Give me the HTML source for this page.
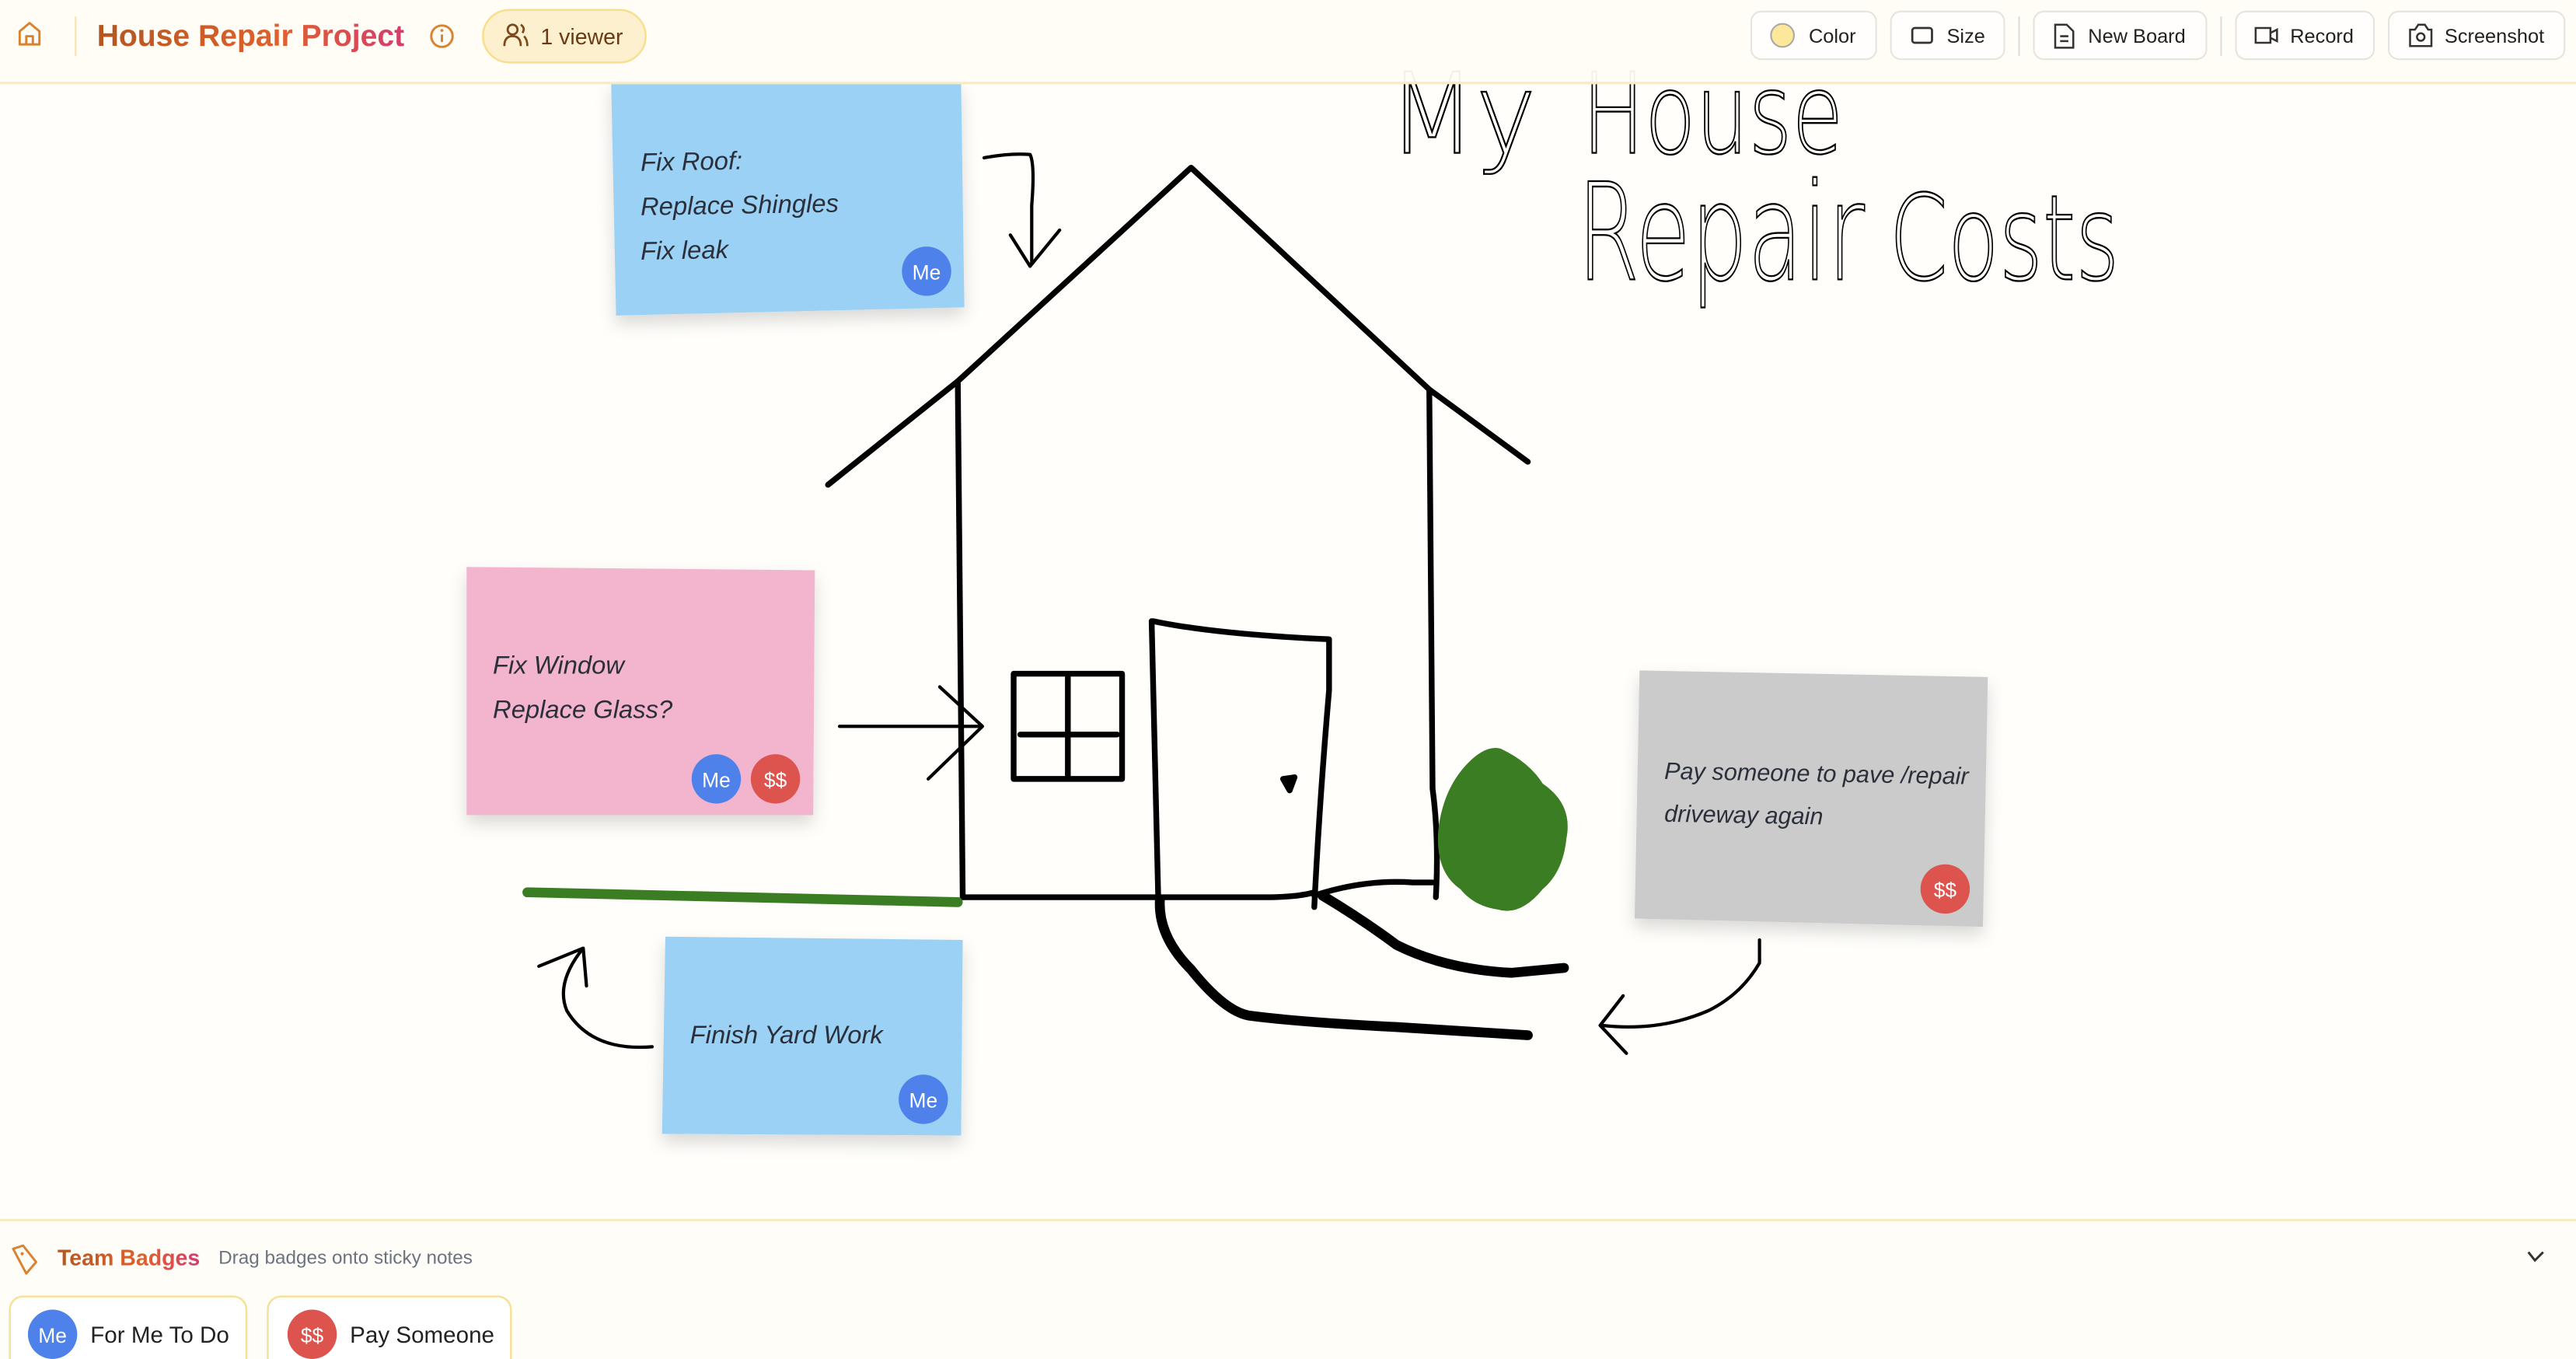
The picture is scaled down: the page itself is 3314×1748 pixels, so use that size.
<!DOCTYPE html>
<html><head><meta charset="utf-8">
<style>
html,body{margin:0;padding:0;width:3314px;height:1748px;overflow:hidden;background:#fffefb;}
svg{display:block}
.ui{font-family:"Liberation Sans",sans-serif;}
.hand{font-family:"Liberation Sans",sans-serif;font-style:italic;fill:#2a2f3a;}
</style></head><body>
<svg width="3314" height="1748" viewBox="0 0 1568 827" xmlns="http://www.w3.org/2000/svg">
<defs>
<linearGradient id="tg" x1="0" x2="1" y1="0" y2="0"><stop offset="0" stop-color="#b5561f"/><stop offset="0.6" stop-color="#e0602e"/><stop offset="1" stop-color="#d43c6e"/></linearGradient>
<filter id="sh" x="-20%" y="-20%" width="140%" height="150%"><feDropShadow dx="0" dy="5" stdDeviation="5" flood-color="#000" flood-opacity="0.15"/></filter>
</defs>
<rect width="1568" height="827" fill="#fffefb"/>

<!-- Title drawing -->
<g fill="none" stroke="#000" stroke-width="1.1" font-family="'DejaVu Sans','Liberation Sans',sans-serif" font-weight="200">
<text x="845" y="93" font-size="68" textLength="90" lengthAdjust="spacingAndGlyphs">My</text>
<text x="963" y="93" font-size="68" textLength="159" lengthAdjust="spacingAndGlyphs">House</text>
<text x="960" y="170" font-size="82" textLength="175" lengthAdjust="spacingAndGlyphs">Repair</text>
<text x="1150" y="170" font-size="72" textLength="140" lengthAdjust="spacingAndGlyphs">Costs</text>
</g>

<!-- House -->
<g fill="none" stroke="#000" stroke-width="3.5" stroke-linecap="round" stroke-linejoin="round">
<path d="M504,295 L583,232 L725,102 L870,237 L930,281"/>
<path d="M583,232 L586,546"/>
<path d="M870,237 L872,480 Q876,510 874,546"/>
<path d="M586,546 L770,546 Q790,546 800,543"/>
<rect x="617" y="410" width="66" height="64"/>
<path d="M650,412 L650,472 M621,447 L680,447"/>
<path d="M701,378 L705,546 M702,378 Q740,386 809,389 L809,420 Q803,490 800,552"/>
<path d="M800,545 Q830,535 860,537 L872,537"/>
<path d="M781,474 L788,473 L785,481 Z" fill="#000"/>
</g>
<g fill="none" stroke="#000" stroke-width="6" stroke-linecap="round">
<path d="M706,548 Q705,570 725,590 Q745,615 760,618 Q790,622 850,625 L930,630"/>
<path d="M805,545 Q830,560 850,575 Q880,590 920,592 L952,589"/>
</g>
<path d="M321,543 L583,549" stroke="#3a7d22" stroke-width="6" stroke-linecap="round"/>
<path d="M913,457 Q930,465 938,478 Q956,490 952,510 Q950,530 938,540 Q925,556 912,552 Q898,550 890,540 Q875,530 877,505 Q880,480 895,465 Q905,455 913,457 Z" fill="#3a7d22" stroke="#3a7d22" stroke-width="3"/>

<!-- Arrows -->
<g fill="none" stroke="#000" stroke-width="2" stroke-linecap="round" stroke-linejoin="round">
<path d="M599,96 Q615,93 627,94 Q630,100 628,125 L628,160 M615,143 L627,162 L645,140"/>
<path d="M511,442 L598,442 M572,418 L598,442 L565,474"/>
<path d="M397,637 Q360,640 345,615 Q338,598 355,577 L357,600 M355,577 L328,588"/>
<path d="M1071,572 L1071,586 Q1060,605 1040,615 Q1010,628 975,624 M988,606 L974,624 L990,641"/>
</g>

<!-- Sticky notes -->
<g filter="url(#sh)">
<polygon points="372,50 585,50 587,187 375,192" fill="#9ad1f4"/>
<polygon points="284,345 496,347 495,496 284,496" fill="#f3b5cd"/>
<polygon points="405,570 586,572 585,691 403,690" fill="#9ad1f4"/>
<polygon points="998,408 1210,412 1207,564 995,559" fill="#cbcbcb"/>
</g>
<g class="hand" font-size="15.5">
<text x="390" y="104" transform="rotate(-1 390 104)">Fix Roof:</text>
<text x="390" y="131" transform="rotate(-1 390 131)">Replace Shingles</text>
<text x="390" y="158" transform="rotate(-1 390 158)">Fix leak</text>
<text x="300" y="410">Fix Window</text>
<text x="300" y="437">Replace Glass?</text>
<text x="420" y="635">Finish Yard Work</text>
<text x="1013" y="474" font-size="14.5" transform="rotate(1 1013 474)">Pay someone to pave /repair</text>
<text x="1013" y="500" font-size="14.5" transform="rotate(1 1013 500)">driveway again</text>
</g>
<g class="ui" font-size="12.5" text-anchor="middle" fill="#fff">
<circle cx="564" cy="165" r="15" fill="#4e82ea"/><text x="564" y="170" fill="#fff">Me</text>
<circle cx="436" cy="474" r="15" fill="#4e82ea"/><text x="436" y="479" fill="#fff">Me</text>
<circle cx="472" cy="474" r="15" fill="#dd534d"/><text x="472" y="479" fill="#fff">$$</text>
<circle cx="562" cy="669" r="15" fill="#4e82ea"/><text x="562" y="674" fill="#fff">Me</text>
<circle cx="1184" cy="541" r="15" fill="#dd534d"/><text x="1184" y="546" fill="#fff">$$</text>
</g>

<!-- Header -->
<rect x="0" y="0" width="1568" height="50" fill="#fffdf6" opacity="0.95"/>
<line x1="0" y1="50.5" x2="1568" y2="50.5" stroke="#f8ebc0" stroke-width="1.5"/>
<g fill="none" stroke="#d9822f" stroke-width="1.4" stroke-linejoin="round">
<path d="M12,27 L12,19 L18,14 L24,19 L24,27 Z M16,27 L16,22 L20,22 L20,27"/>
<circle cx="269" cy="22" r="6.5"/><path d="M269,21 L269,25.5"/>
</g>
<circle cx="269" cy="18.5" r="0.9" fill="#d9822f"/>
<line x1="46" y1="10" x2="46" y2="34" stroke="#f7e4b0" stroke-width="1"/>
<text x="59" y="28" class="ui" font-size="18.5" font-weight="bold" fill="url(#tg)">House Repair Project</text>
<rect x="294" y="6" width="99" height="32" rx="16" fill="#fdf0cf" stroke="#f8df90" stroke-width="1.2"/>
<g fill="none" stroke="#7a4a1a" stroke-width="1.3"><circle cx="312" cy="18" r="3"/><path d="M307,28 Q307,22 312,22 Q317,22 317,28 M317,15 Q320,17 318,20 M319,22 Q321,24 321,28"/></g>
<text x="329" y="27" class="ui" font-size="13.5" fill="#6b3a14">1 viewer</text>

<g class="ui" font-size="12" fill="#222">
<rect x="1066" y="7" width="76" height="29" rx="6" fill="#fffefc" stroke="#e6e4df"/>
<circle cx="1085" cy="21.5" r="7" fill="#fde79a" stroke="#a9a9a9"/><text x="1101" y="26">Color</text>
<rect x="1151" y="7" width="69" height="29" rx="6" fill="#fffefc" stroke="#e6e4df"/>
<rect x="1164" y="17" width="12" height="9" rx="1.5" fill="none" stroke="#333" stroke-width="1.3"/><text x="1185" y="26">Size</text>
<line x1="1229" y1="10" x2="1229" y2="34" stroke="#ddd"/>
<rect x="1238" y="7" width="105" height="29" rx="6" fill="#fffefc" stroke="#e6e4df"/>
<path d="M1251,15 L1258,15 L1262,19 L1262,29 L1251,29 Z M1254,22 L1259,22 M1254,25 L1259,25" fill="none" stroke="#333" stroke-width="1.2"/><text x="1271" y="26">New Board</text>
<line x1="1352" y1="10" x2="1352" y2="34" stroke="#ddd"/>
<rect x="1361" y="7" width="84" height="29" rx="6" fill="#fffefc" stroke="#e6e4df"/>
<path d="M1373,17 L1382,17 L1382,26 L1373,26 Z M1382,20 L1386,18 L1386,25 L1382,23" fill="none" stroke="#333" stroke-width="1.2"/><text x="1394" y="26">Record</text>
<rect x="1454" y="7" width="107" height="29" rx="6" fill="#fffefc" stroke="#e6e4df"/>
<path d="M1467,18 L1470,18 L1472,15 L1476,15 L1478,18 L1480,18 L1480,28 L1467,28 Z" fill="none" stroke="#333" stroke-width="1.2"/><circle cx="1473.5" cy="22.5" r="2.3" fill="none" stroke="#333" stroke-width="1.2"/><text x="1488" y="26">Screenshot</text>
</g>

<!-- Bottom panel -->
<rect x="0" y="742" width="1568" height="85" fill="#fffdf7"/>
<line x1="0" y1="742.5" x2="1568" y2="742.5" stroke="#f8ebc0" stroke-width="1.5"/>
<path d="M8,760 L14,758 L22,768 L16,775 Z" fill="none" stroke="#d9822f" stroke-width="1.4" stroke-linejoin="round"/>
<circle cx="13.5" cy="763" r="1" fill="#d9822f"/>
<text x="35" y="770" class="ui" font-size="13.5" font-weight="bold" fill="url(#tg)">Team Badges</text>
<text x="133" y="769" class="ui" font-size="11.5" fill="#6b7280">Drag badges onto sticky notes</text>
<path d="M1539,762 L1543,767 L1548,762" fill="none" stroke="#333" stroke-width="1.4"/>
<rect x="6" y="789" width="144" height="50" rx="8" fill="#fff" stroke="#f6e19a" stroke-width="1.2"/>
<circle cx="32" cy="812" r="15" fill="#4e82ea"/><text x="32" y="817" class="ui" font-size="12.5" fill="#fff" text-anchor="middle">Me</text>
<text x="55" y="817" class="ui" font-size="14" fill="#222">For Me To Do</text>
<rect x="163" y="789" width="148" height="50" rx="8" fill="#fff" stroke="#f6e19a" stroke-width="1.2"/>
<circle cx="190" cy="812" r="15" fill="#dd534d"/><text x="190" y="817" class="ui" font-size="12.5" fill="#fff" text-anchor="middle">$$</text>
<text x="213" y="817" class="ui" font-size="14" fill="#222">Pay Someone</text>
</svg>
</body></html>
